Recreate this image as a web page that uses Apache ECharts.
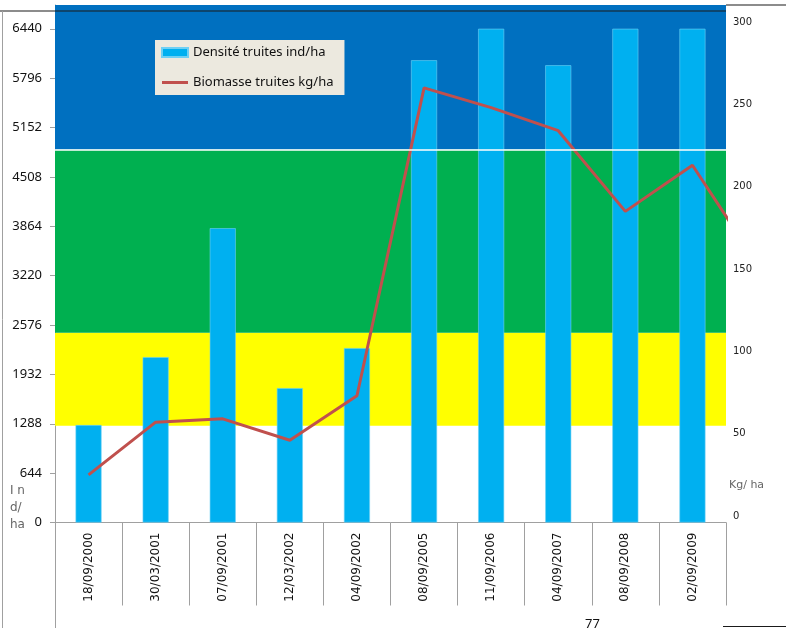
<!DOCTYPE html>
<html>
<head>
<meta charset="utf-8">
<script src="https://cdn.jsdelivr.net/npm/echarts@6/dist/echarts.min.js"></script>
<style>
  html, body { margin: 0; padding: 0; background: #fff; }
  #chart { width: 786px; height: 628px; }
</style>
</head>
<body>
<div id="chart"></div>
<script>
// Sampling dates
const dates = ['18/09/2000', '30/03/2001', '07/09/2001', '12/03/2002', '04/09/2002',
               '08/09/2005', '11/09/2006', '04/09/2007', '08/09/2008', '02/09/2009'];
// Trout density (ind/ha)
const densite = [1271, 2157, 3839, 1753, 2275, 6029, 6440, 5964, 6440, 6440];
// Trout biomass (kg/ha); the last value is the following sample, beyond the date axis
const biomasse = [25, 57, 59, 46, 73, 260, 248, 234, 185, 213, 151];
// Left axis ticks (ind/ha)
const densiteTicks = [0, 644, 1288, 1932, 2576, 3220, 3864, 4508, 5152, 5796, 6440];
const densiteMax = 6750;
// Quality classes for density: [lower, upper, colour]
const classes = [
  [1262, 2474, '#FFFF00'],
  [2474, 4865, '#00B050'],
  [4865, densiteMax, '#0070C0']
];
// Right axis (kg/ha)
const biomasseMin = 0, biomasseMax = 300, biomasseStep = 50;

const GRID_LEFT = 55, GRID_RIGHT = 60;
const gray = '#a0a0a0';
const red = '#C0504D';

const chart = echarts.init(document.getElementById('chart'), null, { renderer: 'canvas' });

chart.setOption({
  animation: false,
  backgroundColor: '#ffffff',
  textStyle: { fontFamily: 'DejaVu Sans' },
  grid: [
    { left: GRID_LEFT, right: GRID_RIGHT, top: 5, bottom: 105.5 },
    { left: GRID_LEFT, right: GRID_RIGHT, top: 22, bottom: 112 }
  ],
  legend: {
    orient: 'vertical',
    left: 155, top: 40,
    padding: [6, 11, 6, 6],
    itemGap: 17,
    itemWidth: 26, itemHeight: 9,
    backgroundColor: '#ECE9DF',
    textStyle: { fontFamily: 'Noto Sans', fontSize: 13, color: '#111' },
    data: [
      { name: 'Densité truites ind/ha', icon: 'rect' },
      { name: 'Biomasse truites kg/ha', icon: 'path://M0,0 H26 V3 H0 Z', itemStyle: { color: red } }
    ]
  },
  xAxis: [
    {
      type: 'category', gridIndex: 0, data: dates,
      axisLine: { lineStyle: { color: gray, width: 1 } },
      axisTick: { show: true, length: 83, interval: 0, lineStyle: { color: gray } },
      axisLabel: { rotate: 90, interval: 0, margin: 10, fontSize: 12, color: '#111', fontFamily: 'DejaVu Sans' }
    },
    {
      type: 'value', gridIndex: 1, min: -0.5, max: dates.length - 0.5, show: false
    }
  ],
  yAxis: [
    {
      type: 'value', gridIndex: 0, min: 0, max: densiteMax,
      axisLine: { show: true, lineStyle: { color: gray } },
      axisTick: { show: true, length: 5, customValues: densiteTicks, lineStyle: { color: gray } },
      axisLabel: {
        customValues: densiteTicks, margin: 13, fontSize: 13, color: '#111', fontFamily: 'Noto Sans',
        formatter: v => String(v)
      },
      splitLine: { show: false }
    },
    {
      type: 'value', gridIndex: 1, position: 'right',
      min: biomasseMin, max: biomasseMax, interval: biomasseStep,
      axisLine: { show: false },
      axisTick: { show: false },
      axisLabel: { margin: 7, fontSize: 10, color: '#222', fontFamily: 'DejaVu Sans' },
      splitLine: { show: false }
    }
  ],
  series: [
    {
      // background quality bands
      name: 'classes', type: 'line', xAxisIndex: 0, yAxisIndex: 0, data: [], z: 1,
      silent: true,
      markArea: {
        silent: true,
        data: classes.map(c => [
          { yAxis: c[0], itemStyle: { color: c[2] } },
          { yAxis: c[1] }
        ])
      },
      markLine: {
        silent: true, symbol: 'none', label: { show: false },
        lineStyle: { color: '#ffffff', width: 1.5, type: 'solid' },
        data: [{ yAxis: classes[2][0] }]
      }
    },
    {
      name: 'Densité truites ind/ha', type: 'bar', xAxisIndex: 0, yAxisIndex: 0,
      data: densite, barWidth: 26, z: 2,
      itemStyle: { color: '#00B0F0', borderColor: '#6fd0f4', borderWidth: 0.6 }
    },
    {
      name: 'Biomasse truites kg/ha', type: 'line', xAxisIndex: 1, yAxisIndex: 1,
      data: biomasse.map((v, i) => [i, v]),
      symbol: 'none', clip: true, z: 3,
      lineStyle: { color: red, width: 3 },
      itemStyle: { color: red }
    }
  ],
  graphic: [
    // page frame lines
    { type: 'line', shape: { x1: 0, y1: 11, x2: 726, y2: 11 }, style: { stroke: '#1a1a1a', lineWidth: 1.2 }, z: 10 },
    { type: 'line', shape: { x1: 726, y1: 5, x2: 786, y2: 5 }, style: { stroke: '#1a1a1a', lineWidth: 1.2 }, z: 10 },
    { type: 'line', shape: { x1: 2.5, y1: 11, x2: 2.5, y2: 628 }, style: { stroke: gray, lineWidth: 1 }, z: 10 },
    { type: 'line', shape: { x1: 55.5, y1: 522, x2: 55.5, y2: 628 }, style: { stroke: gray, lineWidth: 1 }, z: 10 },
    { type: 'line', shape: { x1: 723, y1: 626.5, x2: 786, y2: 626.5 }, style: { stroke: '#1a1a1a', lineWidth: 1.2 }, z: 10 },
    // axis units
    { type: 'text', left: 10, top: 482, style: { text: 'I n\nd/\nha', fill: '#666', font: '12px "DejaVu Sans"', lineHeight: 17 }, z: 10 },
    { type: 'text', left: 729, top: 480, style: { text: 'Kg/ ha', fill: '#666', font: '11px "DejaVu Sans"' }, z: 10 },
    { type: 'text', left: 585, top: 618, style: { text: '77', fill: '#111', font: '13px "Noto Sans"' }, z: 10 }
  ]
});
</script>
</body>
</html>
